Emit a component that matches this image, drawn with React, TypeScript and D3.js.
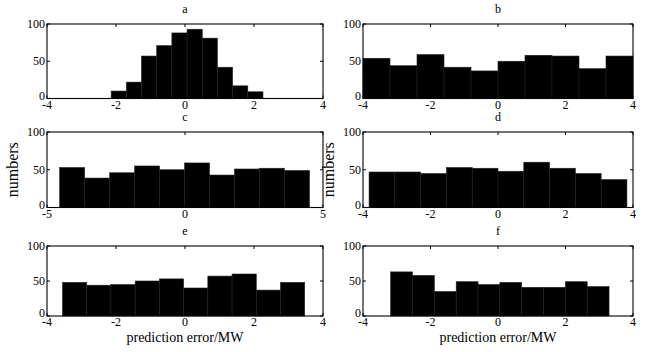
import React from "react";
import * as d3 from "d3";

// histogram counts per panel (10 bins each)
const countsA = [10, 22, 57, 71, 88, 93, 81, 42, 17, 9];
const countsB = [54, 44, 59, 42, 37, 50, 58, 57, 40, 57];
const countsC = [53, 39, 46, 55, 50, 59, 43, 51, 52, 49];
const countsD = [47, 47, 45, 53, 52, 48, 60, 52, 45, 37];
const countsE = [48, 44, 45, 50, 53, 40, 57, 60, 37, 48];
const countsF = [63, 58, 35, 49, 45, 48, 41, 41, 49, 42];

// bin range (first edge, last edge) per panel
const rangeA: [number, number] = [-2.14, 2.26];
const rangeB: [number, number] = [-4, 4];
const rangeC: [number, number] = [-4.54, 4.51];
const rangeD: [number, number] = [-3.82, 3.82];
const rangeE: [number, number] = [-3.55, 3.47];
const rangeF: [number, number] = [-3.18, 3.29];

const ticks4 = [-4, -2, 0, 2, 4];
const ticks5 = [-5, 0, 5];
const yTicks = [0, 50, 100];

const titles = ["a", "b", "c", "d", "e", "f"];

const FONT = "'Liberation Serif', 'Times New Roman', serif";

type Panel = {
  title: string;
  counts: number[];
  range: [number, number];
  domain: [number, number];
  xTicks: number[];
  left: number;
  right: number;
  top: number;
  bottom: number;
  yLabel?: boolean;
  xLabel?: boolean;
};

const colL = [47, 323];
const colR = [363, 633];
const rows = [
  [24, 98.5],
  [132, 207.5],
  [246, 316],
];

const panels: Panel[] = [
  { title: titles[0], counts: countsA, range: rangeA, domain: [-4, 4], xTicks: ticks4, left: colL[0], right: colL[1], top: rows[0][0], bottom: rows[0][1] },
  { title: titles[1], counts: countsB, range: rangeB, domain: [-4, 4], xTicks: ticks4, left: colR[0], right: colR[1], top: rows[0][0], bottom: rows[0][1] },
  { title: titles[2], counts: countsC, range: rangeC, domain: [-5, 5], xTicks: ticks5, left: colL[0], right: colL[1], top: rows[1][0], bottom: rows[1][1], yLabel: true },
  { title: titles[3], counts: countsD, range: rangeD, domain: [-4, 4], xTicks: ticks4, left: colR[0], right: colR[1], top: rows[1][0], bottom: rows[1][1], yLabel: true },
  { title: titles[4], counts: countsE, range: rangeE, domain: [-4, 4], xTicks: ticks4, left: colL[0], right: colL[1], top: rows[2][0], bottom: rows[2][1], xLabel: true },
  { title: titles[5], counts: countsF, range: rangeF, domain: [-4, 4], xTicks: ticks4, left: colR[0], right: colR[1], top: rows[2][0], bottom: rows[2][1], xLabel: true },
];

function Hist({ p }: { p: Panel }) {
  const x = d3.scaleLinear().domain(p.domain).range([p.left, p.right]);
  const y = d3.scaleLinear().domain([0, 100]).range([p.bottom, p.top]);
  const n = p.counts.length;
  const w = (p.range[1] - p.range[0]) / n;
  const tick = 3;
  return (
    <g>
      {p.counts.map((c, i) => {
        const x0 = x(p.range[0] + i * w);
        const x1 = x(p.range[0] + (i + 1) * w);
        return (
          <rect key={i} x={x0} y={y(c)} width={x1 - x0} height={y(0) - y(c)}
            fill="#000" stroke="#222" strokeWidth={0.6} />
        );
      })}
      <rect x={p.left} y={p.top} width={p.right - p.left} height={p.bottom - p.top}
        fill="none" stroke="#000" strokeWidth={1.1} />
      {p.xTicks.map((t) => (
        <g key={"x" + t}>
          <line x1={x(t)} x2={x(t)} y1={p.bottom} y2={p.bottom - tick} stroke="#000" />
          <line x1={x(t)} x2={x(t)} y1={p.top} y2={p.top + tick} stroke="#000" />
          <text x={x(t)} y={p.bottom + 10} textAnchor="middle" fontSize={12} fontFamily={FONT}>{t}</text>
        </g>
      ))}
      {yTicks.map((t) => (
        <g key={"y" + t}>
          <line x1={p.left} x2={p.left + tick} y1={y(t)} y2={y(t)} stroke="#000" />
          <line x1={p.right} x2={p.right - tick} y1={y(t)} y2={y(t)} stroke="#000" />
          <text x={p.left - 2} y={y(t) + 4 - (t === 0 ? 3 : 0)} textAnchor="end"
            fontSize={12} fontFamily={FONT}>{t}</text>
        </g>
      ))}
      <text x={(p.left + p.right) / 2} y={p.top - 11} textAnchor="middle" fontSize={12} fontFamily={FONT}>{p.title}</text>
      {p.yLabel && (
        <text transform={`translate(${p.left - 29},${(p.top + p.bottom) / 2}) rotate(-90)`}
          textAnchor="middle" fontSize={16} fontFamily={FONT}>numbers</text>
      )}
      {p.xLabel && (
        <text x={(p.left + p.right) / 2} y={p.bottom + 26} textAnchor="middle" fontSize={14} fontFamily={FONT}>
          prediction error/MW
        </text>
      )}
    </g>
  );
}

export default function App() {
  return (
    <svg width={645} height={352} style={{ position: "fixed", left: 0, top: 0, background: "#fff" }}>
      <rect width={645} height={352} fill="#fff" />
      {panels.map((p) => (
        <Hist key={p.title} p={p} />
      ))}
    </svg>
  );
}
